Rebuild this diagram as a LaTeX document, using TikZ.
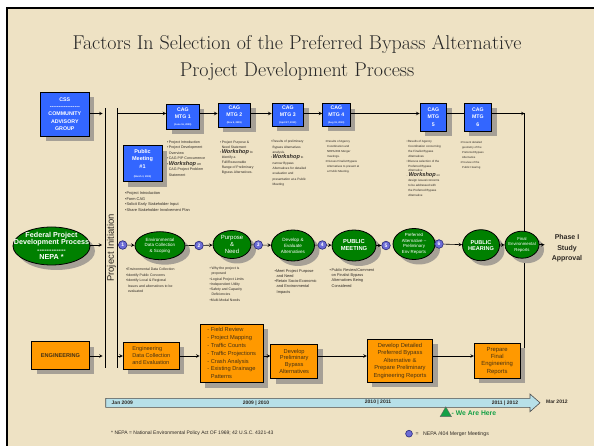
\documentclass[tikz,border=0pt]{standalone}
\usepackage{fontspec}
\setsansfont{Liberation Sans}
\renewcommand{\familydefault}{\sfdefault}
\usepackage{xcolor}
\usetikzlibrary{positioning, arrows.meta, shapes.geometric, shadows}

\definecolor{parchment}{RGB}{238,226,196}
\definecolor{cagblue}{RGB}{51,102,255}
\definecolor{nepagreen}{RGB}{0,128,0}
\definecolor{engorange}{RGB}{255,153,0}
\definecolor{mergerblue}{RGB}{108,108,214}
\definecolor{mergerline}{RGB}{40,40,120}
\definecolor{barblue}{RGB}{183,224,232}
\definecolor{shadowgray}{RGB}{166,160,150}
\definecolor{heregreen}{RGB}{20,160,70}
\definecolor{engtext}{RGB}{70,50,20}
\definecolor{notetext}{RGB}{45,40,35}

\pgfdeclarelayer{background}
\pgfsetlayers{background,main}

\newcommand{\bu}{\textbullet\,}
\newcommand{\nb}{\phantom{\textbullet\,}}
\newcommand{\wshop}{{\fontsize{5.6}{5}\selectfont\bfseries\itshape Workshop}}
\newcommand{\datefont}{\fontsize{2.4}{3}\selectfont}
\newcommand{\hyphenrow}[1]{\foreach \n in {1,...,#1}{-}}

\begin{document}
\begin{tikzpicture}[x=1pt, y=-1pt, font=\sffamily,
  boxshadow/.style={drop shadow={shadow xshift=5pt, shadow yshift=-5pt, fill=shadowgray, opacity=1}},
  cagbox/.style={rectangle, draw=black, line width=0.8pt, fill=cagblue, text=white, align=center, inner sep=0pt, font=\fontsize{5.2}{7}\selectfont\bfseries, boxshadow},
  engbox/.style={rectangle, draw=black, line width=0.8pt, fill=engorange, text=engtext, align=center, inner sep=0pt, boxshadow},
  nepa/.style={ellipse, draw=black, line width=0.8pt, fill=nepagreen, inner sep=0pt, boxshadow},
  nepatext/.style={text=white, align=center, inner sep=0pt},
  merger/.style={circle, draw=mergerline, line width=0.6pt, fill=mergerblue, text=white, inner sep=0pt, minimum size=8.6pt, font=\fontsize{5}{5}\selectfont\bfseries},
  notes/.style={anchor=north west, align=left, inner sep=0pt, text=notetext},
  link/.style={->, >=stealth, line width=0.6pt},
  wire/.style={line width=0.6pt},
  rail/.style={line width=0.8pt},
  stamp/.style={text=notetext, inner sep=0pt, font=\fontsize{5}{5}\selectfont\bfseries}]

% Page and frame
\useasboundingbox (0,0) rectangle (594,446);
\begin{pgfonlayer}{background}
\fill[white] (0,0) rectangle (594,446);
\fill[parchment] (6,8) rectangle (594,446);
\end{pgfonlayer}
\draw[line width=2pt] (6.5,446) -- (6.5,8.5) -- (594,8.5);

% Title
\node[font=\fontsize{20}{27}\selectfont\rmfamily, align=center, text=black!85] (title) at (297,57.5) {Factors In Selection of the Preferred Bypass Alternative\\Project Development Process};

% Project initiation rails
\coordinate (initL) at (105.7,108);
\coordinate (initR) at (117,108);
\coordinate (initLb) at (105.7,367.5);
\coordinate (initRb) at (117,367.5);
\draw[rail] (initL) -- (initLb);
\draw[rail] (initR) -- (initRb);
\node[rotate=90, inner sep=0pt, text=notetext, font=\fontsize{9.5}{9.5}\selectfont] (init) at (111.4,248) {Project Initiation};

\coordinate (toprow) at (0,113.5);
\coordinate (midrow) at (0,245);
\coordinate (botrow) at (0,356);

% CSS / CAG row
\node[cagbox, minimum width=48.3pt, minimum height=44pt, font=\fontsize{5.3}{7.3}\selectfont\bfseries] (css) at (64.8,114) {CSS\\\hyphenrow{17}\\COMMUNITY\\ADVISORY\\GROUP};
\node[cagbox, minimum width=32.3pt, minimum height=25pt] (mtg1) at (182.8,116.5) {CAG\\MTG 1\\{\datefont (June 16, 2009)}};
\node[cagbox, minimum width=32.7pt, minimum height=24pt] (mtg2) at (234.3,115) {CAG\\MTG 2\\{\datefont (Nov 5, 2009)}};
\node[cagbox, minimum width=31.7pt, minimum height=23pt] (mtg3) at (287.8,114.5) {CAG\\MTG 3\\{\datefont (April 27, 2010)}};
\node[cagbox, minimum width=27.3pt, minimum height=22.3pt] (mtg4) at (336.3,114.8) {CAG\\MTG 4\\{\datefont (Aug 19, 2010)}};
\node[cagbox, minimum width=26.7pt, minimum height=28pt, font=\fontsize{5.2}{7.5}\selectfont\bfseries] (mtg5) at (433.3,117) {CAG\\MTG\\5};
\node[cagbox, minimum width=27.7pt, minimum height=28pt, font=\fontsize{5.2}{7.5}\selectfont\bfseries] (mtg6) at (477.8,117) {CAG\\MTG\\6};
\node[cagbox, minimum width=39pt, minimum height=36pt, font=\fontsize{5.5}{7.5}\selectfont\bfseries] (pm1) at (142.5,163.6) {Public\\Meeting\\\#1\\[2pt]{\datefont (March 3, 2009)}};

\node[notes, font=\fontsize{3.9}{5.5}\selectfont] (pm1-notes) at (125,191.5) {\textbullet Project Introduction\\\textbullet Form CAG\\\textbullet Solicit Early Stakeholder Input\\\textbullet Share Stakeholder Involvement Plan};
\node[notes, font=\fontsize{3.6}{5.5}\selectfont] (mtg1-notes) at (166.8,140.6) {\bu Project Introduction\\\bu Project Development\\\nb Overview\\\bu CAG P/P Concurrence\\\bu \wshop{} on\\\nb CAG Project Problem\\\nb Statement};
\node[notes, font=\fontsize{3.4}{5}\selectfont] (mtg2-notes) at (219.8,140.6) {\bu Project Purpose \&\\\nb Need Statement\\\bu \wshop{} to\\\nb Identify a\\\nb Full/Reasonable\\\nb Range of Preliminary\\\nb Bypass Alternatives.};
\node[notes, font=\fontsize{3.2}{5.3}\selectfont] (mtg3-notes) at (270.8,140.4) {\bu Results of preliminary\\\nb Bypass Alternatives\\\nb analysis.\\\bu \wshop{} to\\\nb narrow Bypass\\\nb Alternatives for detailed\\\nb evaluation and\\\nb presentation at a Public\\\nb Meeting};
\node[notes, font=\fontsize{2.9}{5}\selectfont] (mtg4-notes) at (325.5,140.5) {\textbullet Results of Agency\\\nb Coordination and\\\nb NEPA/404 Merger\\\nb meetings.\\\textbullet Discuss Finalist Bypass\\\nb Alternatives to present at\\\nb a Public Meeting.};
\node[notes, font=\fontsize{3}{4.9}\selectfont] (mtg5-notes) at (406.5,140.2) {\textbullet Results of Agency\\\nb Coordination concerning\\\nb the Finalist Bypass\\\nb Alternatives\\\textbullet Discuss selection of the\\\nb Preferred Bypass\\\nb Alternative\\- \wshop{} on\\\nb design issues/concerns\\\nb to be addressed with\\\nb the Preferred Bypass\\\nb Alternative};
\node[notes, font=\fontsize{2.8}{5.1}\selectfont] (mtg6-notes) at (460.5,140.8) {\textbullet Present detailed\\\nb geometry of the\\\nb Preferred Bypass\\\nb Alternative\\\textbullet Preview of the\\\nb Public Hearing};

% NEPA process row
\node[nepa, minimum width=77pt, minimum height=38pt] (fed) at (51.5,246) {};
\node[nepatext, font=\fontsize{7.2}{7.4}\selectfont\bfseries] (fed-text) at (fed) {Federal Project\\Development Process\\\hyphenrow{12}\\NEPA *};

\node[nepa, minimum width=50pt, minimum height=28pt] (env) at (160,245.7) {};
\node[nepatext, font=\fontsize{4.5}{5.8}\selectfont] at (env) {Environmental\\Data Collection\\\& Scoping};
\node[nepa, minimum width=38pt, minimum height=28pt] (purpose) at (232,244.5) {};
\node[nepatext, font=\fontsize{6}{7}\selectfont] at (purpose) {Purpose\\\&\\Need};
\node[nepa, minimum width=43pt, minimum height=31pt] (develop) at (293,245.5) {};
\node[nepatext, font=\fontsize{4.6}{6}\selectfont] at (develop) {Develop \&\\Evaluate\\Alternatives};
\node[nepa, minimum width=44pt, minimum height=31pt] (pubmeet) at (354,245.5) {};
\node[nepatext, font=\fontsize{5.8}{7}\selectfont\bfseries] at (pubmeet) {PUBLIC\\MEETING};
\node[nepa, minimum width=42pt, minimum height=31pt] (preferred) at (414,244) {};
\node[nepatext, font=\fontsize{4.4}{5.7}\selectfont] at (preferred) {Preferred\\Alternative --\\Preliminary\\Env Reports};
\node[nepa, minimum width=37pt, minimum height=31pt] (hearing) at (481,245.2) {};
\node[nepatext, font=\fontsize{5.6}{6.2}\selectfont\bfseries] at (hearing) {PUBLIC\\HEARING};
\node[nepa, minimum width=34pt, minimum height=27pt] (final) at (522,244.7) {};
\node[nepatext, font=\fontsize{4.3}{5.5}\selectfont] at (final) {Final\\Environmental\\Reports};
\node[align=center, inner sep=0pt, text=notetext, font=\fontsize{7}{10.6}\selectfont\bfseries] (phase) at (567,248.5) {Phase I\\Study\\Approval};

\node[merger] (m1) at (122.7,245) {1};
\node[merger] (m2) at (199,245.5) {2};
\node[merger] (m3) at (258.3,245) {3};
\node[merger] (m4) at (322.3,245) {4};
\node[merger] (m5) at (386,245.5) {5};
\node[merger] (m6) at (439,244) {6};

\node[notes, font=\fontsize{3.5}{5.6}\selectfont] (env-notes) at (126,267.7) {\textbullet Environmental Data Collection\\\textbullet Identify Public Concerns\\\textbullet Identify Local \& Regional\\\nb Issues and alternatives to be\\\nb evaluated};
\node[notes, font=\fontsize{3.5}{5.3}\selectfont] (purpose-notes) at (209.5,266.7) {\bu Why the project is\\\nb proposed\\\textbullet Logical Project Limits\\\textbullet Independent Utility\\\textbullet Safety and Capacity\\\nb Deficiencies\\\textbullet Multi-Modal Needs};
\node[notes, font=\fontsize{3.9}{5.3}\selectfont] (develop-notes) at (274.5,269) {\textbullet Meet Project Purpose\\\nb and Need\\\textbullet Retain Socio-Economic\\\nb and Environmental\\\nb Impacts};
\node[notes, font=\fontsize{3.9}{5.1}\selectfont] (pubmeet-notes) at (329.5,268.7) {\bu Public Review/Comment\\\nb on Finalist Bypass\\\nb Alternatives Being\\\nb Considered};

% Engineering row
\node[engbox, minimum width=57.6pt, minimum height=27.6pt, font=\fontsize{5.6}{7}\selectfont\bfseries] (eng) at (60.5,355.5) {ENGINEERING};
\node[engbox, minimum width=56pt, minimum height=27pt, align=left, font=\fontsize{5.6}{7}\selectfont] (engdata) at (151.3,355.8) {Engineering\\Data Collection\\and Evaluation};
\node[engbox, minimum width=63.3pt, minimum height=58.7pt, align=left, font=\fontsize{5.7}{7.8}\selectfont] (field) at (231.7,353.3) {- Field Review\\- Project Mapping\\- Traffic Counts\\- Traffic Projections\\- Crash Analysis\\- Existing Drainage\\\phantom{- }Patterns};
\node[engbox, minimum width=47pt, minimum height=34.7pt, font=\fontsize{5.7}{6.8}\selectfont] (devprelim) at (294.2,361.3) {Develop\\Preliminary\\Bypass\\Alternatives};
\node[engbox, minimum width=65.4pt, minimum height=43pt, font=\fontsize{5.8}{7.5}\selectfont] (devdetail) at (400,360.5) {Develop Detailed\\Preferred Bypass\\Alternative \&\\Prepare Preliminary\\Engineering Reports};
\node[engbox, minimum width=45.7pt, minimum height=35pt, font=\fontsize{5.9}{7.2}\selectfont] (prepfinal) at (497.2,360.8) {Prepare\\Final\\Engineering\\Reports};

% Connectors
\draw[link, shorten >=3pt] (css.east |- toprow) -- (initL |- toprow);
\draw[link] (initR |- toprow) -- (mtg1.west |- toprow);
\draw[link] (mtg1.east |- toprow) -- (mtg2.west |- toprow);
\draw[link] (mtg2.east |- toprow) -- (mtg3.west |- toprow);
\draw[link] (mtg3.east |- toprow) -- (mtg4.west |- toprow);
\draw[link] (mtg4.east |- toprow) -- (mtg5.west |- toprow);
\draw[wire] (mtg5.east |- toprow) -- (mtg6.west |- toprow);
\coordinate (phaseT) at (524.7,113.5);
\coordinate (phaseB) at (524.7,357);
\draw[link] (mtg6.east |- toprow) -- (phaseT);
\begin{pgfonlayer}{background}
\draw[rail] (phaseT) -- (phaseB) -- (prepfinal.east |- phaseB);
\end{pgfonlayer}

\draw[link, shorten >=3.5pt] (fed.east |- midrow) -- (initL |- midrow);
\draw[link] (m1) -- (env);
\draw[wire] (env) -- (m2);
\draw[link] (m2) -- (purpose);
\draw[wire] (purpose) -- (m3);
\draw[link] (m3) -- (develop);
\draw[wire] (develop) -- (m4);
\draw[link] (m4) -- (pubmeet);
\draw[link] (pubmeet) -- (m5);
\draw[link] (m6) -- (hearing);
\draw[link] (hearing) -- (final);
\draw[link, shorten >=7pt] (final.east) -- (phase.west |- final.east);

\draw[link, shorten >=3pt] (eng.east |- botrow) -- (initL |- botrow);
\draw[link] (initR |- botrow) -- (engdata.west |- botrow);
\draw[link] (engdata.east |- botrow) -- (field.west |- botrow);
\draw[link] (field.east |- botrow) -- (devprelim.west |- botrow);
\draw[link] (devprelim.east |- botrow) -- (devdetail.west |- botrow);
\draw[link] (devdetail.east |- botrow) -- (prepfinal.west |- botrow);

% Timeline
\draw[fill=barblue, draw=black!70, line width=0.6pt] (105.7,398.3) -- (530,398.3) -- (530,394) -- (540,402.8) -- (530,411.7) -- (530,407.3) -- (105.7,407.3) -- cycle;
\node[stamp, anchor=west] (jan) at (111.5,402.8) {Jan 2009};
\node[stamp] (y0910) at (256,402.8) {2009 | 2010};
\node[stamp] (y1011) at (378,402.5) {2010 | 2011};
\node[stamp] (y1112) at (505,402.8) {2011 | 2012};
\node[stamp, anchor=west] (mar) at (546,402) {Mar 2012};

\node[regular polygon, regular polygon sides=3, fill=heregreen, draw=black!60, line width=0.4pt, minimum size=13pt, inner sep=0pt] (here) at (445.8,413.3) {};
\node[anchor=west, inner sep=0pt, text=heregreen, font=\fontsize{6.8}{7}\selectfont\bfseries] (here-text) at (451.5,413.3) {- We Are Here};

% Footnote and key
\node[anchor=west, inner sep=0pt, text=notetext, font=\fontsize{5}{5}\selectfont] (nepa-note) at (111,433.5) {* NEPA = National Environmental Policy Act OF 1969; 42 U.S.C. 4321-43};
\node[merger, minimum size=6.8pt] (key) at (409,433.7) {};
\node[anchor=west, inner sep=0pt, text=notetext, font=\fontsize{5.2}{5}\selectfont] (key-text) at (415.5,433.7) {=\ \ \ NEPA /404 Merger Meetings};
\end{tikzpicture}
\end{document}
